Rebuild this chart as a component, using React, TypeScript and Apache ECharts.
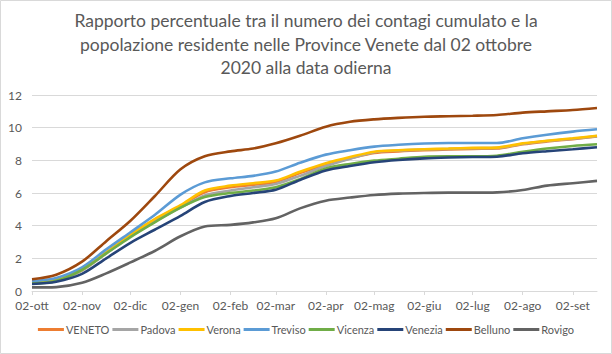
import React, { useEffect, useRef } from "react";
import * as echarts from "echarts";

const titleText =
  "Rapporto percentuale tra il numero dei contagi cumulato e la\npopolazione residente nelle Province Venete dal 02 ottobre\n2020 alla data odierna";

// sample dates (ISO)
const dates = [
  "2020-10-02", "2020-10-17", "2020-11-02", "2020-11-17", "2020-12-02", "2020-12-17",
  "2021-01-02", "2021-01-17", "2021-02-02", "2021-02-16", "2021-03-02", "2021-03-17",
  "2021-04-02", "2021-04-17", "2021-05-02", "2021-05-17", "2021-06-02", "2021-06-17",
  "2021-07-02", "2021-07-17", "2021-08-02", "2021-08-17", "2021-09-02", "2021-09-17",
];

const veneto = [0.52, 0.68, 1.28, 2.35, 3.4, 4.35, 5.2, 6.05, 6.35, 6.5, 6.68, 7.22, 7.75, 8.12, 8.45, 8.55, 8.62, 8.66, 8.7, 8.72, 8.98, 9.15, 9.3, 9.46];
const padova = [0.5, 0.65, 1.25, 2.3, 3.35, 4.25, 5.1, 5.85, 6.15, 6.35, 6.55, 7.05, 7.65, 8.1, 8.5, 8.6, 8.66, 8.7, 8.74, 8.76, 9.0, 9.18, 9.32, 9.48];
const verona = [0.55, 0.7, 1.3, 2.35, 3.45, 4.4, 5.25, 6.15, 6.45, 6.6, 6.76, 7.3, 7.82, 8.2, 8.53, 8.62, 8.68, 8.72, 8.76, 8.78, 9.04, 9.2, 9.35, 9.51];
const treviso = [0.6, 0.8, 1.45, 2.55, 3.6, 4.65, 5.9, 6.65, 6.9, 7.05, 7.31, 7.85, 8.35, 8.62, 8.84, 8.95, 9.03, 9.06, 9.06, 9.06, 9.35, 9.57, 9.76, 9.9];
const vicenza = [0.45, 0.62, 1.3, 2.3, 3.3, 4.2, 5.1, 5.75, 6.0, 6.15, 6.35, 6.85, 7.5, 7.78, 7.98, 8.1, 8.22, 8.24, 8.24, 8.28, 8.52, 8.72, 8.88, 8.98];
const venezia = [0.43, 0.57, 1.05, 2.0, 2.95, 3.75, 4.6, 5.45, 5.82, 6.0, 6.2, 6.8, 7.38, 7.65, 7.88, 8.02, 8.12, 8.17, 8.2, 8.22, 8.43, 8.56, 8.68, 8.8];
const belluno = [0.72, 1.0, 1.8, 3.05, 4.3, 5.8, 7.45, 8.25, 8.55, 8.72, 9.04, 9.5, 10.06, 10.36, 10.51, 10.6, 10.67, 10.7, 10.73, 10.78, 10.92, 11.0, 11.08, 11.2];
const rovigo = [0.22, 0.24, 0.5, 1.08, 1.75, 2.45, 3.35, 3.95, 4.05, 4.2, 4.45, 5.06, 5.53, 5.72, 5.88, 5.96, 6.0, 6.02, 6.02, 6.04, 6.18, 6.45, 6.6, 6.74];

const seriesNames = ["VENETO", "Padova", "Verona", "Treviso", "Vicenza", "Venezia", "Belluno", "Rovigo"];
const seriesValues = [veneto, padova, verona, treviso, vicenza, venezia, belluno, rovigo];
const seriesColors = ["#ED7D31", "#A5A5A5", "#FFC000", "#5B9BD5", "#70AD47", "#264478", "#9E480E", "#636363"];

const tickDates = [
  "2020-10-02", "2020-11-02", "2020-12-02", "2021-01-02", "2021-02-02", "2021-03-02",
  "2021-04-02", "2021-05-02", "2021-06-02", "2021-07-02", "2021-08-02", "2021-09-02",
];
const tickLabels = ["02-ott", "02-nov", "02-dic", "02-gen", "02-feb", "02-mar", "02-apr", "02-mag", "02-giu", "02-lug", "02-ago", "02-set"];
const startDate = "2020-10-02";
const endDate = "2021-09-17";

const dayOf = (iso: string) => {
  const [y, m, d] = iso.split("-").map(Number);
  const [y0, m0, d0] = startDate.split("-").map(Number);
  return Math.round((Date.UTC(y, m - 1, d) - Date.UTC(y0, m0 - 1, d0)) / 86400000);
};

export default function App() {
  const ref = useRef<HTMLDivElement>(null);
  useEffect(() => {
    document.body.style.margin = "0";
    const chart = echarts.init(ref.current!, undefined, { renderer: "svg" });
    const tickDays = tickDates.map(dayOf);
    const labelMap: Record<number, string> = {};
    tickDays.forEach((d, i) => (labelMap[d] = tickLabels[i]));
    const font = "Lato, 'Open Sans', sans-serif";
    chart.setOption({
      animation: false,
      backgroundColor: "#fff",
      graphic: [
        {
          type: "rect",
          shape: { x: 0.5, y: 0.5, width: 611, height: 353 },
          style: { fill: "none", stroke: "#d9d9d9", lineWidth: 1 },
          silent: true,
        },
        {
          type: "text",
          x: 306,
          y: 9,
          style: {
            text: titleText,
            align: "center",
            verticalAlign: "top",
            fontFamily: font,
            fontSize: 17.5,
            lineHeight: 23.5,
            fill: "#595959",
          },
          silent: true,
        },
      ],
      legend: {
        bottom: 14,
        left: "center",
        icon: "rect",
        itemWidth: 26,
        itemHeight: 3,
        itemGap: 3,
        textStyle: { fontFamily: font, fontSize: 11, color: "#595959", padding: [0, 0, 0, -3] },
        data: seriesNames,
      },
      grid: { left: 32, right: 15, top: 95, bottom: 63, containLabel: false },
      xAxis: {
        type: "value",
        min: 0,
        max: dayOf(endDate),
        splitLine: { show: false },
        axisLine: { show: true, lineStyle: { color: "#d9d9d9" } },
        axisTick: { show: true, length: 4, lineStyle: { color: "#d9d9d9" }, customValues: tickDays },
        axisLabel: {
          customValues: tickDays,
          formatter: (v: number) => labelMap[Math.round(v)] ?? "",
          fontFamily: font,
          fontSize: 12,
          color: "#595959",
          margin: 8,
        },
      },
      yAxis: {
        type: "value",
        min: 0,
        max: 12,
        interval: 2,
        axisLine: { show: false },
        axisTick: { show: false },
        splitLine: { lineStyle: { color: "#d9d9d9" } },
        axisLabel: { fontFamily: font, fontSize: 12, color: "#595959", margin: 10 },
      },
      series: seriesNames.map((name, i) => ({
        name,
        type: "line",
        data: dates.map((d, j) => [dayOf(d), seriesValues[i][j]]),
        showSymbol: false,
        symbol: "none",
        smooth: 0.3,
        lineStyle: { color: seriesColors[i], width: 2.6 },
        itemStyle: { color: seriesColors[i] },
      })),
    });
    return () => chart.dispose();
  }, []);
  return <div ref={ref} style={{ width: 612, height: 354 }} />;
}
